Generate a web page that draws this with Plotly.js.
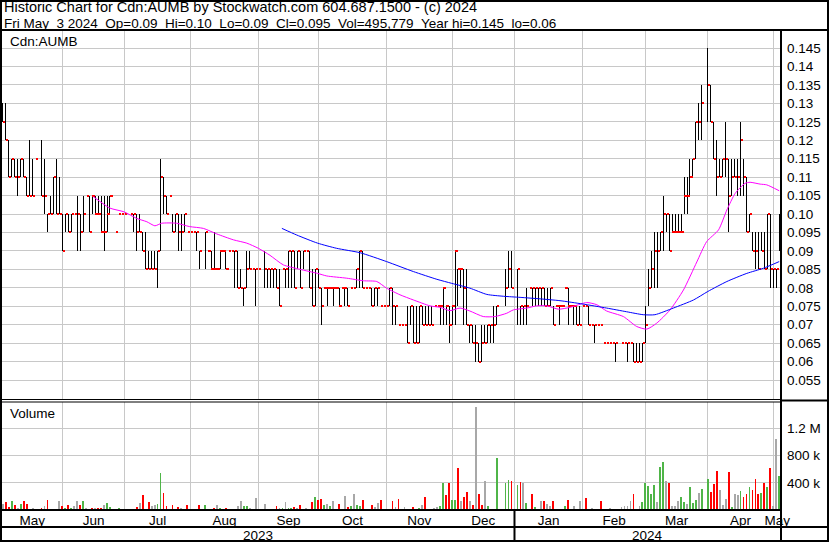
<!DOCTYPE html>
<html><head><meta charset="utf-8">
<script src="https://cdn.plot.ly/plotly-3.0.1.min.js"></script>
<style>html,body{margin:0;padding:0;background:#fff;}#chart{width:830px;height:543px;}</style>
</head><body><div id="chart"></div>
<script>
// Day index 0 = Thu 2023-05-04; one slot per weekday (holidays / no-trade days = null)
const monthStarts = [20, 41, 63, 86, 106, 129, 151, 172, 195, 216, 237, 259];
const monthNames = ['May','Jun','Jul','Aug','Sep','Oct','Nov','Dec','Jan','Feb','Mar','Apr','May'];
const yearStart2024 = 172;
const yearNames = ['2023', '2024'];

const high = [
.13,.13,.12,.115,.115,.115,.115,.115,.11,.12,
.115,.115,null,.12,.115,.10,.105,.11,.115,.11,
.10,.10,.10,.10,.10,.105,.10,.105,.105,.105,
.105,.105,.105,.105,.105,.105,.105,null,.095,.10,
.10,.10,null,.10,.10,.10,.10,.095,.095,.09,
.09,.09,.09,.115,.11,.105,.105,.10,.10,.10,
.10,.10,.095,.095,.095,.095,.09,null,.095,.09,
.09,.095,.085,.09,.09,.09,.09,.09,.09,.09,
.085,.08,.09,.09,.085,.085,.085,null,.09,.085,
.085,.085,.085,.085,.085,.085,.09,.09,.09,.09,
.09,.09,.09,.09,.085,.085,.085,.08,.08,.08,
.08,.08,.08,.08,.08,.08,.08,.08,.08,.085,
.09,.09,.08,.08,.08,.08,.08,.075,.075,.075,
.08,.08,.075,.07,.07,.07,.075,.075,.075,.075,
.075,.075,.075,.075,.075,.075,.075,.075,.08,.075,
.075,.075,.09,.085,.085,.085,.085,.07,.07,.07,
.065,.07,.07,.07,.07,.075,.075,null,null,.085,
.09,.09,null,.085,.075,.075,.08,.08,.08,.08,
.08,.08,.08,.08,.08,.075,.075,.075,.075,.08,
.08,.075,.075,.075,.075,.075,.075,.075,.07,.07,
.07,.07,.065,.065,.065,.065,.065,null,.065,.065,
.065,.065,.065,.065,.065,.065,.075,.085,.09,.095,
.095,.095,.105,.10,.10,.10,.10,.10,.10,.11,
.11,.115,.115,.125,.13,.135,null,.145,.135,.125,
.12,.115,.115,.125,.115,.115,.115,.115,.125,.115,
.11,.10,.095,.095,.095,.095,.095,.10,.10,.085,
.085,.10];

const low = [
.125,.12,.11,.11,.11,.105,.11,.11,.105,.105,
.105,.115,null,.105,.10,.095,.10,.10,.10,.10,
.09,.095,.095,.095,.10,.09,.09,.095,.105,.095,
.10,.10,.10,.095,.09,.095,.10,null,.095,.10,
.10,.10,null,.10,.095,.09,.095,.09,.085,.085,
.085,.085,.08,.09,.10,.10,.105,.095,.095,.09,
.09,.095,.095,.095,.095,.09,.085,null,.085,.09,
.085,.085,.085,.085,.09,.085,.09,.09,.08,.08,
.08,.075,.08,.085,.085,.075,.085,null,.08,.08,
.08,.08,.08,.075,.085,.08,.08,.08,.08,.085,
.08,.085,.09,.08,.075,.075,.08,.07,.08,.075,
.08,.075,.08,.075,.08,.075,.075,.08,.08,.08,
.08,.08,.08,.08,.075,.075,.075,.075,.075,.075,
.075,.07,.07,.07,.07,.07,.065,.07,.065,.065,
.065,.07,.07,.07,.07,.075,.075,.07,.07,.07,
.065,.07,.07,.075,.08,.07,.07,.065,.065,.06,
.06,.06,.065,.065,.065,.065,.07,null,null,.075,
.08,.08,null,.07,.07,.07,.07,.08,.075,.075,
.075,.075,.075,.075,.075,.07,.075,.07,.075,.08,
.07,.075,.07,.07,.07,.075,.075,.07,.07,.065,
.07,.07,.065,.065,.065,.065,.06,null,.065,.065,
.06,.065,.06,.06,.06,.06,.065,.075,.08,.08,
.08,.09,.09,.095,.09,.095,.095,.095,.095,.10,
.10,.105,.11,.115,.12,.12,null,.125,.125,.115,
.105,.11,.11,.11,.095,.105,.11,.105,.105,.105,
.095,.095,.09,.085,.085,.09,.085,.085,.08,.08,
.08,.09];

const close = [
.125,.12,.11,.115,.11,.11,.115,.11,.105,.105,
.105,.115,null,.105,.105,.10,.10,.11,.10,.10,
.09,.10,.095,.10,.10,.10,.095,.10,.105,.095,
.105,.10,.10,.095,.095,.10,.105,null,.095,.10,
.10,.10,null,.10,.10,.095,.095,.09,.085,.085,
.085,.085,.09,.11,.105,.10,.105,.095,.10,.095,
.095,.10,.095,.095,.095,.095,.09,null,.095,.09,
.085,.085,.085,.09,.09,.085,.09,.09,.09,.08,
.08,.08,.085,.085,.085,.085,.085,null,.085,.085,
.085,.085,.08,.075,.085,.085,.09,.09,.08,.09,
.08,.09,.09,.08,.075,.085,.08,.075,.08,.08,
.08,.08,.08,.075,.08,.08,.075,.08,.08,.085,
.09,.08,.08,.08,.075,.08,.08,.075,.075,.075,
.08,.075,.075,.07,.07,.07,.065,.075,.065,.065,
.075,.07,.07,.07,.07,.075,.075,.075,.08,.075,
.07,.075,.09,.085,.085,.08,.07,.07,.065,.065,
.06,.065,.065,.07,.07,.07,.075,null,null,.08,
.085,.08,null,.085,.075,.075,.075,.08,.08,.08,
.08,.08,.075,.075,.08,.07,.075,.075,.075,.08,
.075,.075,.075,.07,.07,.075,.075,.07,.07,.07,
.07,.07,.065,.065,.065,.065,.065,null,.065,.065,
.065,.065,.06,.06,.06,.065,.07,.08,.085,.09,
.09,.095,.10,.10,.09,.095,.095,.095,.095,.105,
.105,.11,.115,.125,.125,.13,null,.135,.125,.115,
.11,.11,.115,.115,.105,.11,.11,.11,.12,.11,
.095,.10,.09,.09,.085,.09,.085,.10,.085,.085,
.085,.095];

const volume = [
93000,112000,42000,126000,70000,33000,84000,140000,88000,19000,
28000,14000,null,28000,60000,153000,14000,14000,14000,140000,
60000,23000,74000,33000,56000,126000,74000,126000,23000,19000,
33000,28000,28000,33000,74000,98000,42000,null,14000,28000,
14000,14000,null,14000,14000,42000,98000,223000,14000,112000,
60000,70000,84000,544000,251000,60000,19000,70000,14000,42000,
28000,14000,70000,14000,14000,14000,70000,null,70000,14000,
14000,23000,70000,28000,19000,28000,14000,14000,14000,56000,
140000,56000,56000,28000,19000,181000,14000,null,84000,19000,
19000,19000,56000,28000,28000,112000,28000,28000,42000,28000,
70000,19000,28000,19000,112000,195000,149000,167000,74000,84000,
56000,140000,19000,84000,19000,209000,47000,60000,237000,70000,
60000,153000,19000,19000,70000,42000,98000,153000,19000,19000,
19000,140000,42000,167000,19000,51000,19000,19000,42000,19000,
28000,70000,186000,19000,19000,28000,47000,60000,395000,223000,
405000,144000,153000,614000,140000,195000,265000,140000,70000,1520000,
237000,70000,432000,56000,19000,19000,763000,null,null,391000,
446000,432000,null,363000,419000,391000,98000,19000,237000,42000,
19000,140000,126000,84000,56000,126000,14000,19000,19000,56000,
153000,14000,56000,10000,126000,19000,181000,10000,28000,10000,
10000,126000,10000,10000,28000,10000,10000,null,42000,56000,
56000,126000,237000,10000,56000,112000,391000,349000,237000,363000,
112000,637000,707000,432000,391000,56000,56000,126000,195000,112000,
84000,335000,98000,153000,251000,307000,null,450000,260000,380000,
580000,290000,75000,160000,560000,40000,230000,220000,280000,190000,
230000,340000,300000,460000,230000,250000,400000,340000,626000,55000,
1040000,495779];

// volume bar colour per day: r = down, g = up, n = unchanged, - = no trading
const volDir = [
'nrrgrngrrn','ng-rnrnnrn','rgrgnnrgnr','rnrrngg-rg','nn-nnrnrnr',
'nnggrrnrgr','nnrnnnr-gn','rrngnrnngn','nggnnnn-nn','nnrngnggrn',
'rnnrrgrrgn','gnnrnnrgng','grnnrnnrnn','nrnrnnnnrg','gnrnnnnggr',
'rggrnrrnrn','rrngnng--g','gr-grngnrg','nnrnnrnnng','rnnrnnrnnn',
'nrnnnnn-nn','nnrnnggggg','nggnrnnngg','ngggng-grr','rnnnrgnngr',
'rgrrrgrgrn','ng'].join('').split('');

// moving averages (day index, price)
const maShortX = [30.4,36,40.7,45,48.4,51.1,53.4,58.4,62.7,67.4,71.9,77.5,82,85.9,89.8,94.3,99.9,105.8,108.9,115.6,121.2,125.7,129,133.5,138,143.6,147,150.3,153.7,157,161.5,165.4,169.4,171.6,176.1,179.5,182.9,186.8,190.7,196.3,199.7,203,208.6,213.1,216.5,219.8,224.3,228.8,233.3,236.6,240.6,243.4,246.2,249.5,251.2,254.6,256.8,261];
const maShortY = [.1047,.1016,.1006,.0988,.0979,.0968,.0975,.0975,.0966,.0961,.0946,.0930,.0921,.0907,.0888,.0862,.0850,.0839,.0832,.0826,.0819,.0817,.0799,.0781,.0767,.0751,.0747,.0738,.0745,.0737,.0722,.0722,.0731,.0740,.0745,.0751,.0751,.0742,.0747,.0760,.0754,.0737,.0722,.0695,.0688,.0704,.0740,.0794,.0870,.0925,.0957,.1011,.1056,.1083,.1086,.1081,.1079,.1063];
const maLongX = [93.8,98.8,105.8,112.2,120.1,129,138,145.9,150.9,157,162.7,168.3,173.9,180.6,187.3,194.9,203,209.7,215.3,219.2,225.4,232.2,237,243.4,250.1,255.7,261];
const maLongY = [.0961,.0943,.0921,.0907,.0895,.0871,.0844,.0823,.0812,.0799,.0782,.0777,.0774,.0770,.0765,.0756,.0745,.0735,.0727,.0727,.0745,.0767,.0790,.0817,.0839,.0853,.0871];

const priceTicks = [.055,.06,.065,.07,.075,.08,.085,.09,.095,.10,.105,.11,.115,.12,.125,.13,.135,.14,.145];
const priceTickText = ['0.055','0.06','0.065','0.07','0.075','0.08','0.085','0.09','0.095','0.10','0.105','0.11','0.115','0.12','0.125','0.13','0.135','0.14','0.145'];
const volTicks = [400000, 800000, 1200000];
const volTickText = ['400 k', '800 k', '1.2 M'];

const headerLine1 = 'Historic Chart for Cdn:AUMB by Stockwatch.com 604.687.1500 - (c) 2024';
const headerLine2 = 'Fri May\u00a0\u00a03 2024\u00a0\u00a0Op=0.09\u00a0\u00a0Hi=0.10\u00a0\u00a0Lo=0.09\u00a0\u00a0Cl=0.095\u00a0\u00a0Vol=495,779\u00a0\u00a0Year hi=0.145\u00a0\u00a0lo=0.06';

// ---------- build ----------
const XR = [-0.3, 261.6];
const n = high.length;
const barX = [], barY = [], tickX = [], tickY = [], vX = [], vY = [], vC = [];
const colMap = {r:'#ff0000', g:'#4fb548', n:'#a8a8a8', '-':'#ffffff'};
for (let i = 0; i < n; i++) {
  if (high[i] !== null) {
    barX.push(i, i, null); barY.push(low[i], high[i], null);
    tickX.push(i + 0.12, i + 0.85, null); tickY.push(close[i], close[i], null);
  }
  if (volume[i] !== null) { vX.push(i); vY.push(volume[i]); vC.push(colMap[volDir[i]]); }
}
const bounds = [XR[0]].concat(monthStarts, [XR[1]]);
const labelPos = [];
for (let k = 0; k < bounds.length - 1; k++) labelPos.push((bounds[k] + bounds[k+1]) / 2);

const FONT = 'Liberation Sans, Arial, Helvetica, sans-serif';
const GRID = '#c8c8c8';
const L = 2, R = 49, T = 31, B = 33, W = 830, H = 543;
const PW = W - L - R, PH = H - T - B;
const px = x => (x - L) / PW;
const py = y => (H - B - y) / PH;

const traces = [
  {type:'bar', x:vX, y:vY, xaxis:'x', yaxis:'y2', width:0.62, marker:{color:vC, line:{width:0}}, hoverinfo:'skip'},
  {type:'scatter', mode:'lines', x:barX, y:barY, xaxis:'x2', yaxis:'y', line:{color:'#000000', width:1}, hoverinfo:'skip', connectgaps:false},
  {type:'scatter', mode:'lines', x:tickX, y:tickY, xaxis:'x2', yaxis:'y', line:{color:'#ff0000', width:2}, hoverinfo:'skip', connectgaps:false},
  {type:'scatter', mode:'lines', x:maShortX, y:maShortY, xaxis:'x2', yaxis:'y', line:{color:'#ff00ff', width:1, shape:'spline', smoothing:0.6}, hoverinfo:'skip'},
  {type:'scatter', mode:'lines', x:maLongX, y:maLongY, xaxis:'x2', yaxis:'y', line:{color:'#0000ff', width:1, shape:'spline', smoothing:0.6}, hoverinfo:'skip'}
];

const minorGrid = {tickmode:'array', tickvals:monthStarts, showgrid:true, gridcolor:GRID, gridwidth:1, ticks:''};
const line = (x0, y0, x1, y1, w) => ({type:'line', xref:'paper', yref:'paper', x0:px(x0), y0:py(y0), x1:px(x1), y1:py(y1), line:{color:'#000', width:w}, layer:'above'});

const layout = {
  width: W, height: H,
  margin: {l:L, r:R, t:T, b:B, pad:0},
  paper_bgcolor:'#ffffff', plot_bgcolor:'#ffffff',
  showlegend:false,
  font:{family:FONT, size:13, color:'#000'},
  bargap:0,
  xaxis: {range:XR, anchor:'y2', tickmode:'array', tickvals:labelPos, ticktext:monthNames,
          showgrid:false, zeroline:false, showline:false, ticks:'', tickfont:{size:13.5, color:'#000', family:FONT},
          minor:minorGrid, fixedrange:true, ticklabelstandoff:0},
  xaxis2: {range:XR, anchor:'y', matches:'x', showticklabels:false, showgrid:false, zeroline:false, showline:false, ticks:'',
          minor:minorGrid, fixedrange:true},
  yaxis: {domain:[py(399), 1], range:[0.04985, 0.14961], side:'right', tickmode:'array', tickvals:priceTicks, ticktext:priceTickText,
          showgrid:true, gridcolor:GRID, gridwidth:1, zeroline:false, showline:false, ticks:'', ticklabelstandoff:5,
          tickfont:{size:13.5, color:'#000', family:FONT}, fixedrange:true},
  yaxis2: {domain:[0, py(401.5)], range:[0, 1600000], side:'right', tickmode:'array', tickvals:volTicks, ticktext:volTickText,
          showgrid:true, gridcolor:GRID, gridwidth:1, zeroline:false, showline:false, ticks:'', ticklabelstandoff:5,
          tickfont:{size:13.5, color:'#000', family:FONT}, fixedrange:true},
  shapes: [
    {type:'rect', xref:'paper', yref:'paper', x0:px(1), y0:py(1), x1:px(828), y1:py(541), line:{color:'#000', width:2}, layer:'above'},
    line(0, 30, 829, 30, 2),
    line(781, 30, 781, 541, 2),
    line(0, 399.5, 781, 399.5, 1),
    line(0, 402, 781, 402, 1),
    line(781, 400.5, 829, 400.5, 2),
    line(0, 510, 781, 510, 2),
    line(0, 527, 829, 527, 2),
    {type:'line', xref:'x', yref:'paper', x0:yearStart2024, x1:yearStart2024, y0:py(510), y1:py(541), line:{color:'#000', width:2}, layer:'above'}
  ],
  annotations: [
    {xref:'paper', yref:'paper', x:px(2), y:py(7), xanchor:'left', yanchor:'middle', showarrow:false, text:headerLine1, font:{size:14.5, family:FONT, color:'#000'}},
    {xref:'paper', yref:'paper', x:px(2), y:py(23.8), xanchor:'left', yanchor:'middle', showarrow:false, text:headerLine2, font:{size:13.5, family:FONT, color:'#000'}},
    {xref:'paper', yref:'paper', x:px(8), y:py(41.5), xanchor:'left', yanchor:'middle', showarrow:false, text:'Cdn:AUMB', font:{size:13.5, family:FONT, color:'#000'}},
    {xref:'paper', yref:'paper', x:px(8), y:py(413), xanchor:'left', yanchor:'middle', showarrow:false, text:'Volume', font:{size:13.5, family:FONT, color:'#000'}},
    {xref:'x', yref:'paper', x:(XR[0] + yearStart2024) / 2, y:py(535), xanchor:'center', yanchor:'middle', showarrow:false, text:yearNames[0], font:{size:13.5, family:FONT, color:'#000'}},
    {xref:'x', yref:'paper', x:(yearStart2024 + XR[1]) / 2, y:py(535), xanchor:'center', yanchor:'middle', showarrow:false, text:yearNames[1], font:{size:13.5, family:FONT, color:'#000'}}
  ]
};

Plotly.newPlot('chart', traces, layout, {staticPlot:true, displayModeBar:false}).then(function (gd) {
  // crisp, non-antialiased price bars and close ticks like the original bitmap chart
  gd.querySelectorAll('.scatterlayer .trace').forEach(function (t, k) {
    if (k < 2) t.querySelectorAll('path.js-line').forEach(function (p) { p.style.shapeRendering = 'crispEdges'; });
  });
  gd.querySelectorAll('.barlayer path').forEach(function (p) { p.style.shapeRendering = 'crispEdges'; });
});
</script>
</body></html>
